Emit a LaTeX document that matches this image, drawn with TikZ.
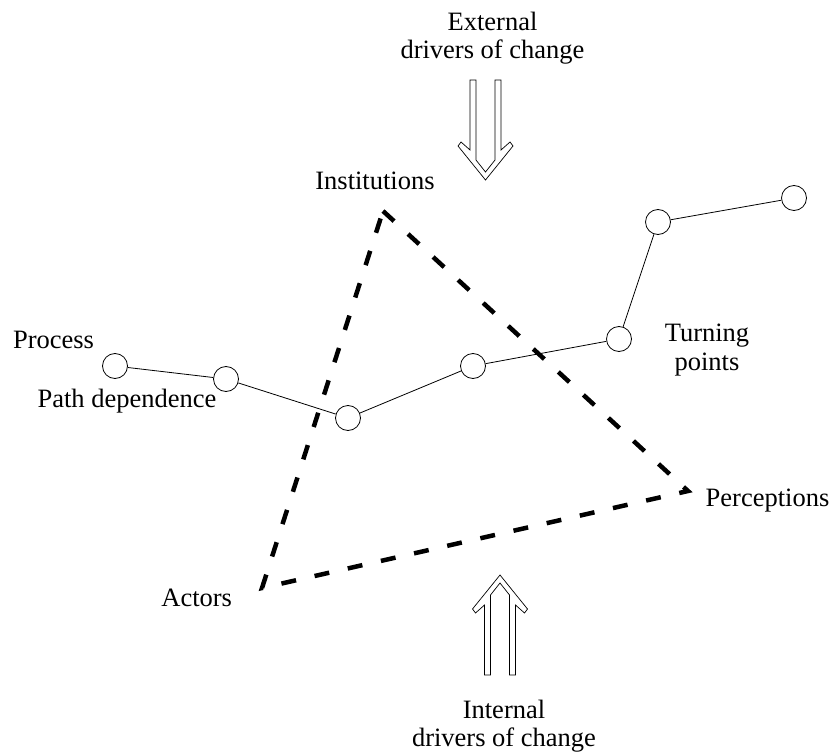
\documentclass[tikz,border=0pt]{standalone}
\usepackage{fontspec}
\setmainfont{Liberation Serif}
\begin{document}
\begin{tikzpicture}[x=1pt,y=-1pt,
  label/.style={inner sep=0pt,font=\fontsize{26.5}{28.7}\selectfont},
  stage/.style={draw,circle,line width=0.8pt,minimum size=25pt,inner sep=0pt},
  link/.style={line width=0.8pt},
  frame/.style={line width=4.5pt,dash pattern=on 15pt off 19pt,miter limit=20},
  driver/.style={line width=0.7pt,line join=miter},
  driverarrow/.pic={
    \draw[driver] (-15.5,-100) -- (-9.5,-100) -- (-9.5,-20) -- (0,-8) -- (9.5,-20)
      -- (9.5,-100) -- (15.5,-100) -- (15.5,-30) -- (24.5,-38) -- (27.5,-34)
      -- (0,0) -- (-27.5,-34) -- (-24.5,-38) -- (-15.5,-30) -- cycle;
  }]
\useasboundingbox (0,0) rectangle (838,754);

% process stages
\node[stage] (s1) at (115,366) {};
\node[stage] (s2) at (226,379) {};
\node[stage] (s3) at (348,418) {};
\node[stage] (s4) at (473,366) {};
\node[stage] (s5) at (619,339) {};
\node[stage] (s6) at (658,222) {};
\node[stage] (s7) at (794,198) {};
\draw[link] (s1) -- (s2) -- (s3) -- (s4) -- (s5) -- (s6) -- (s7);

% triangle of institutions, perceptions and actors
\coordinate (inst) at (383,211);
\coordinate (perc) at (688,491);
\coordinate (act) at (262,588);
\draw[frame] (inst) -- (perc) -- (act) -- cycle;

% drivers of change
\pic at (485.5,180) {driverarrow};
\pic[yscale=-1] at (500,575) {driverarrow};

% labels
\node[label,align=center] (ext) at (492.5,38.2) {External\\drivers of change};
\node[label,align=center] (int) at (504,726.2) {Internal\\drivers of change};
\node[label,anchor=base] (linst) at (375,190) {Institutions};
\node[label,anchor=base] (lproc) at (53.5,348) {Process};
\node[label,anchor=base] (lpath) at (127,407) {Path dependence};
\node[label,align=center] (lturn) at (707,349.7) {Turning\\points};
\node[label,anchor=base] (lperc) at (767.5,506.7) {Perceptions};
\node[label,anchor=base] (lact) at (196.7,606.7) {Actors};
\end{tikzpicture}
\end{document}
